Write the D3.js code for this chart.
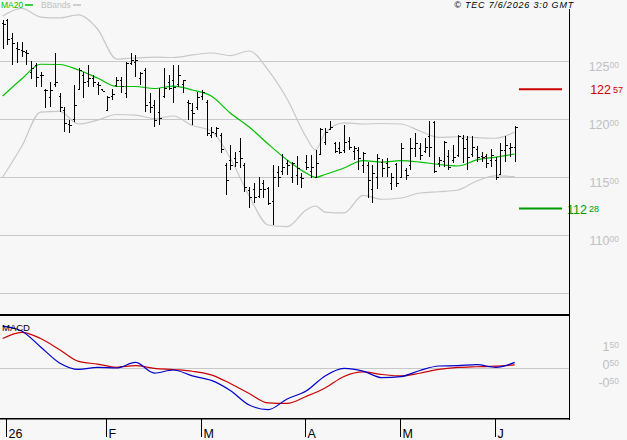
<!DOCTYPE html>
<html>
<head>
<meta charset="utf-8">
<script src="https://cdn.jsdelivr.net/npm/d3@7"></script>
<style>
  html, body { margin: 0; padding: 0; background: #f7f7f7; }
  svg { display: block; font-family: "Liberation Sans", Arial, sans-serif; }
</style>
</head>
<body>
<div id="chart"></div>
<script>
// daily bars, 31 Dec 2025 .. 5 Jun 2026 (index 0..108)
var opens = [128.28,128.50,126.98,126.12,125.95,125.80,124.05,124.66,123.80,122.50,121.90,123.00,122.00,120.80,119.60,120.00,122.60,123.80,123.30,123.50,123.00,122.55,120.80,122.00,122.90,123.40,122.20,124.80,124.90,123.50,124.20,121.50,121.20,120.60,122.00,123.20,123.40,123.00,123.00,121.50,120.80,121.00,122.00,121.50,118.60,118.80,118.60,116.00,116.50,116.60,117.20,116.00,113.90,114.00,113.40,114.50,114.08,112.90,115.40,115.50,116.20,115.00,115.20,115.00,116.30,115.50,115.00,117.00,118.00,119.10,117.90,117.50,117.30,118.10,117.20,117.30,116.00,116.00,114.00,115.00,116.30,116.20,114.50,116.10,115.00,115.60,116.00,117.50,117.50,117.20,118.50,119.70,116.20,116.40,116.80,116.50,116.90,118.40,118.30,117.00,117.40,116.80,116.80,116.50,116.50,115.30,117.30,117.50,117.60];
var highs = [128.53,128.59,127.41,126.64,126.64,125.95,125.00,124.83,124.05,122.59,123.19,125.69,122.24,121.03,119.91,122.93,124.40,124.05,124.66,123.79,123.19,122.59,121.98,122.59,123.62,123.62,124.91,125.69,125.52,124.05,124.40,122.24,121.64,122.67,124.40,123.79,124.66,124.66,123.36,121.64,121.38,122.33,122.50,121.64,119.31,119.31,118.79,116.21,117.76,117.16,118.36,116.21,114.14,114.48,115.03,114.74,114.14,116.03,115.95,116.98,116.47,116.29,116.81,115.34,116.90,116.90,117.33,119.22,119.22,119.83,118.02,118.02,119.48,118.45,117.67,117.59,117.16,116.29,116.03,116.98,116.55,116.60,115.34,116.21,117.93,115.78,118.36,118.79,117.93,118.36,119.83,119.80,116.72,118.10,117.33,117.76,118.62,118.62,118.53,118.53,117.67,117.16,116.98,117.41,116.72,117.93,118.53,117.93,119.40];
var lows = [126.01,126.38,124.66,124.83,125.34,124.66,123.45,122.76,122.76,120.95,121.03,122.76,120.60,118.88,118.79,119.74,122.59,121.81,122.76,122.76,122.07,122.41,120.78,121.64,122.76,122.24,121.81,124.66,123.62,122.93,120.60,120.52,119.31,119.48,121.81,122.50,121.38,122.76,122.24,119.91,119.48,120.78,121.64,118.53,118.36,118.45,117.07,113.45,115.60,115.86,115.78,113.71,112.33,112.76,113.19,113.19,112.59,110.86,114.14,115.17,115.17,114.48,114.31,114.05,115.60,114.91,114.91,116.90,117.76,119.05,117.07,116.98,117.07,117.33,116.47,115.60,115.34,113.19,112.76,113.97,115.00,115.00,113.88,114.14,114.91,114.74,115.60,116.72,116.47,117.07,116.72,115.34,115.86,115.86,115.60,116.21,116.72,116.21,115.60,116.72,116.29,116.29,115.78,115.86,114.74,115.17,116.29,116.72,116.29];
var closes = [128.19,126.90,126.55,126.00,125.90,125.70,124.37,123.62,123.79,122.50,122.50,123.19,121.03,119.66,119.48,121.21,124.22,123.19,123.53,123.19,122.93,122.45,121.90,122.16,123.36,122.84,124.83,125.09,125.09,124.00,121.20,121.06,119.91,120.06,122.64,122.64,122.79,123.79,123.36,121.35,120.49,121.92,122.36,118.77,118.91,119.20,117.40,114.74,116.03,116.32,116.61,114.16,113.30,113.30,113.97,113.97,112.80,115.00,115.00,115.89,116.03,116.18,115.75,114.89,115.89,115.89,116.18,119.11,118.91,119.34,117.20,117.18,118.04,117.61,117.47,116.61,117.04,114.74,115.32,116.61,115.75,115.89,115.03,114.50,117.50,115.17,117.47,117.96,116.90,117.61,117.61,115.50,116.47,118.00,115.89,116.75,118.50,117.47,116.75,117.61,116.75,116.75,116.18,116.90,115.03,117.33,117.76,117.61,119.28];

// indicator lines, read at these bar indices
var lineIdx = [0,4,8,12,16,20,24,28,32,36,40,44,48,52,56,60,64,66,68,72,76,80,84,88,92,96,100,104,108];
var ma20 = [121.98,123.45,124.72,124.70,124.22,123.53,122.80,122.80,122.63,122.84,122.50,121.98,120.52,119.31,117.84,116.47,115.34,114.96,115.22,115.78,116.42,116.29,116.41,116.29,116.08,115.95,116.47,116.72,116.98];
var bbUpper = [128.88,129.53,128.79,128.71,128.97,127.76,125.17,125.26,125.34,125.30,125.52,125.69,125.47,125.86,124.22,121.72,118.45,117.33,118.79,119.66,119.57,119.61,119.57,118.97,118.42,118.47,118.39,118.34,118.88];
var bbLower = [115.00,117.63,120.60,120.65,119.57,119.91,120.39,120.34,120.04,120.26,119.44,118.97,116.64,113.36,110.86,110.72,112.16,112.50,111.98,111.90,113.41,113.08,113.19,113.62,113.73,113.88,114.66,115.09,115.03];

var macdIdx = [0,4,8,12,16,20,24,28,32,36,40,44,48,52,56,60,64,68,72,76,80,84,88,92,96,100,104,108];
var macdLine = [2.33,2.06,1.17,0.28,-0.08,0.04,0.00,0.31,-0.28,-0.11,-0.44,-0.69,-1.25,-2.06,-2.31,-1.72,-1.28,-0.44,-0.02,-0.17,-0.54,-0.48,-0.14,0.11,0.13,0.19,0.03,0.31];
var signalLine = [1.64,1.98,1.64,1.02,0.37,0.22,0.04,0.13,-0.02,-0.09,-0.18,-0.38,-0.86,-1.42,-1.94,-1.97,-1.58,-1.11,-0.47,-0.22,-0.36,-0.44,-0.29,-0.08,0.03,0.07,0.10,0.17];

var priceTicks = [110, 115, 120, 125];
var priceGrid = [105, 110, 115, 120, 125];
var macdTicks = [1.5, 0.5, -0.5];
var monthIdx = [1, 22, 42, 64, 84, 104];
var monthLabels = ["26", "F", "M", "A", "M", "J"];
var resistance = 122.57;
var support = 112.28;

function splitNum(v) {
  var s = v.toFixed(2).split(".");
  return [s[0], s[1]];
}

function drawChart() {
  var W = 627, H = 440;
  var right = 569;
  var svg = d3.select("#chart").append("svg").attr("width", W).attr("height", H);
  svg.append("rect").attr("width", W).attr("height", H).attr("fill", "#f7f7f7");

  var x = d3.scaleLinear().domain([0, 108]).range([2.7, 514.7]);
  var y = d3.scaleLinear().domain([110, 125]).range([235, 61]);
  var ym = d3.scaleLinear().domain([-1, 1]).range([386, 350]);
  var px = function (i) { return Math.round(x(i)) + 0.5; };

  // price grid
  svg.selectAll(".pgrid").data(priceGrid).enter().append("line")
    .attr("x1", 0).attr("x2", right)
    .attr("y1", function (d) { return Math.round(y(d)) + 0.5; })
    .attr("y2", function (d) { return Math.round(y(d)) + 0.5; })
    .attr("stroke", "#c8c8c8").attr("shape-rendering", "crispEdges");

  // price labels with small decimals
  var pl = svg.selectAll(".plab").data(priceTicks).enter().append("text")
    .attr("x", 619).attr("y", function (d) { return y(d) + 10; })
    .attr("text-anchor", "end").attr("fill", "#c0c0c0").style("font-size", "12.5px");
  pl.append("tspan").text(function (d) { return splitNum(d)[0]; });
  pl.append("tspan").attr("dy", -3.5).style("font-size", "8.5px").text(function (d) { return splitNum(d)[1]; });

  // bollinger bands + MA20
  var ln = function (vals) {
    return d3.line().x(function (d, i) { return x(lineIdx[i]); })
      .y(function (d) { return y(d); }).curve(d3.curveMonotoneX)(vals);
  };
  svg.append("path").attr("d", ln(bbUpper)).attr("fill", "none").attr("stroke", "#c8c8c8").attr("stroke-width", 1.2);
  svg.append("path").attr("d", ln(bbLower)).attr("fill", "none").attr("stroke", "#c8c8c8").attr("stroke-width", 1.2);
  svg.append("path").attr("d", ln(ma20)).attr("fill", "none").attr("stroke", "#00c000").attr("stroke-width", 1.2);

  // OHLC bars
  var bars = svg.append("g").attr("stroke", "#000").attr("shape-rendering", "crispEdges");
  opens.forEach(function (o, i) {
    var cx = px(i);
    bars.append("line").attr("x1", cx).attr("x2", cx).attr("y1", y(highs[i])).attr("y2", y(lows[i]));
    bars.append("line").attr("x1", cx - 2).attr("x2", cx).attr("y1", Math.round(y(o)) + 0.5).attr("y2", Math.round(y(o)) + 0.5);
    bars.append("line").attr("x1", cx).attr("x2", cx + 2).attr("y1", Math.round(y(closes[i])) + 0.5).attr("y2", Math.round(y(closes[i])) + 0.5);
  });

  // support / resistance
  svg.append("line").attr("x1", 519).attr("x2", 562).attr("y1", y(resistance)).attr("y2", y(resistance))
    .attr("stroke", "#cc0000").attr("stroke-width", 2);
  svg.append("line").attr("x1", 519).attr("x2", 562).attr("y1", y(support)).attr("y2", y(support))
    .attr("stroke", "#009900").attr("stroke-width", 2);
  var rl = svg.append("text").attr("x", 623).attr("y", y(resistance) + 5).attr("text-anchor", "end")
    .attr("fill", "#cc0000").style("font-size", "12.5px");
  rl.append("tspan").text(splitNum(resistance)[0]);
  rl.append("tspan").attr("dx", 2).attr("dy", -1.5).style("font-size", "9px").text(splitNum(resistance)[1]);
  var sl = svg.append("text").attr("x", 599).attr("y", y(support) + 5).attr("text-anchor", "end")
    .attr("fill", "#009900").style("font-size", "12.5px");
  sl.append("tspan").text(splitNum(support)[0]);
  sl.append("tspan").attr("dx", 2).attr("dy", -1.5).style("font-size", "9px").text(splitNum(support)[1]);

  // legend + copyright
  var lg = svg.append("text").attr("x", 1).attr("y", 8).style("font-size", "8.5px");
  lg.append("tspan").attr("fill", "#00c000").text("MA20");
  svg.append("line").attr("x1", 25).attr("x2", 33).attr("y1", 5).attr("y2", 5).attr("stroke", "#00c000").attr("stroke-width", 1.5);
  svg.append("text").attr("x", 41).attr("y", 8).style("font-size", "8.5px").attr("fill", "#c0c0c0").text("BBands");
  svg.append("line").attr("x1", 73).attr("x2", 81).attr("y1", 5).attr("y2", 5).attr("stroke", "#c0c0c0").attr("stroke-width", 1.5);
  svg.append("text").attr("x", 574).attr("y", 8).attr("text-anchor", "end").style("font-size", "9px")
    .style("font-style", "italic").style("letter-spacing", "0.8px").text("\u00a9 TEC 7/6/2026 3:0 GMT");

  // MACD pane
  svg.append("line").attr("x1", 0).attr("x2", right).attr("y1", ym(0) + 0.5).attr("y2", ym(0) + 0.5)
    .attr("stroke", "#c8c8c8").attr("shape-rendering", "crispEdges");
  var ml = svg.selectAll(".mlab").data(macdTicks).enter().append("text")
    .attr("x", 619).attr("y", function (d) { return ym(d) + 10; })
    .attr("text-anchor", "end").attr("fill", "#c0c0c0").style("font-size", "12.5px");
  ml.append("tspan").text(function (d) { return d < 0 ? "-" + splitNum(-d)[0] : splitNum(d)[0]; });
  ml.append("tspan").attr("dy", -3.5).style("font-size", "8.5px").text(function (d) { return splitNum(Math.abs(d))[1]; });

  var mln = d3.line().x(function (d, i) { return x(macdIdx[i]); }).y(function (d) { return ym(d); }).curve(d3.curveMonotoneX);
  svg.append("path").attr("d", mln(signalLine)).attr("fill", "none").attr("stroke", "#cc0000").attr("stroke-width", 1.2);
  svg.append("path").attr("d", mln(macdLine)).attr("fill", "none").attr("stroke", "#0000cc").attr("stroke-width", 1.2);
  svg.append("text").attr("x", 2).attr("y", 331).style("font-size", "9.5px").text("MACD");

  // frame
  svg.append("rect").attr("x", 0).attr("y", 314).attr("width", right).attr("height", 2).attr("fill", "#000");
  svg.append("line").attr("x1", right + 0.5).attr("x2", right + 0.5).attr("y1", 9).attr("y2", 420)
    .attr("stroke", "#000").attr("shape-rendering", "crispEdges");
  svg.append("rect").attr("x", 0).attr("y", 418).attr("width", right + 1).attr("height", 1.5).attr("fill", "#000");

  // month axis
  svg.selectAll(".mtick").data(monthIdx).enter().append("line")
    .attr("x1", function (d) { return Math.round(x(d)) - 0.5; })
    .attr("x2", function (d) { return Math.round(x(d)) - 0.5; })
    .attr("y1", 419).attr("y2", 437).attr("stroke", "#000").attr("shape-rendering", "crispEdges");
  svg.selectAll(".mlabel").data(monthLabels).enter().append("text")
    .attr("x", function (d, i) { return Math.round(x(monthIdx[i])) + 1.5; })
    .attr("y", 437.5).style("font-size", "12.5px").text(function (d) { return d; });
}

drawChart();
</script>
</body>
</html>
